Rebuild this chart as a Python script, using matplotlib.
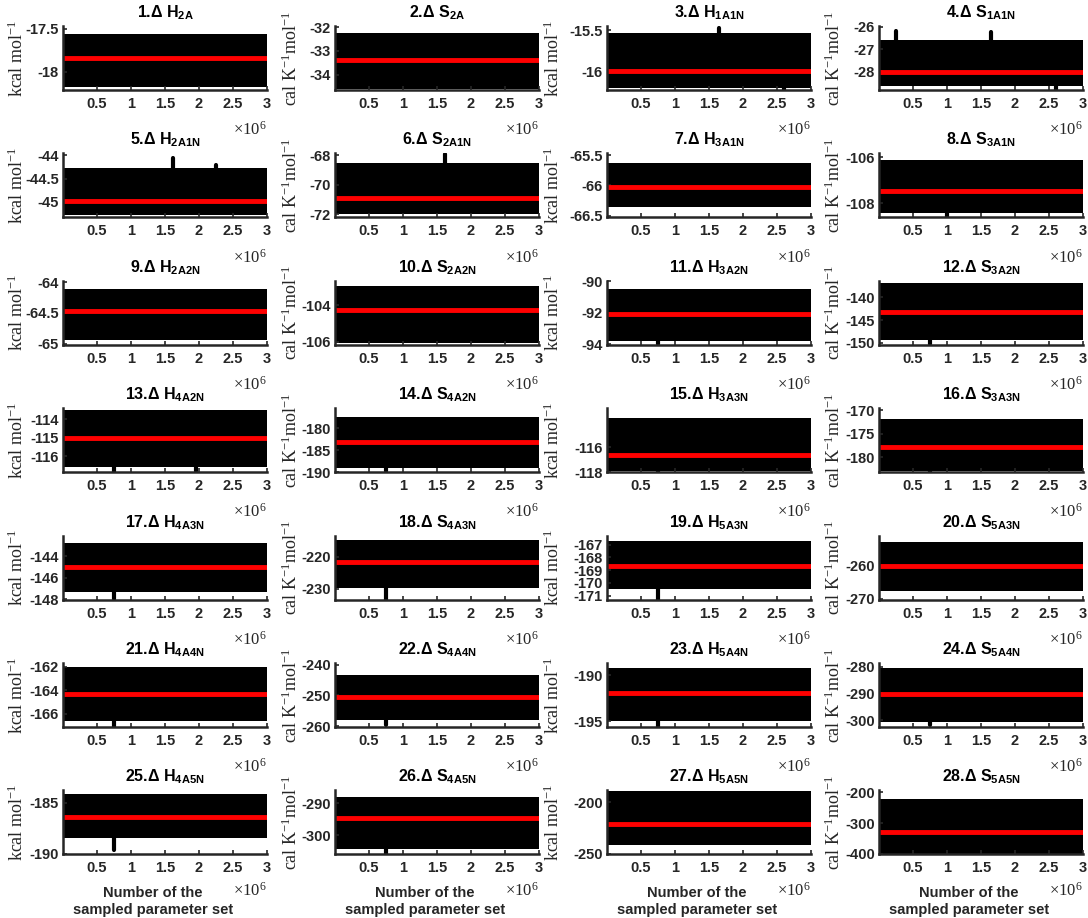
import matplotlib
matplotlib.use("Agg")
import matplotlib.pyplot as plt

plt.rcParams['mathtext.fontset'] = 'custom'
plt.rcParams['mathtext.rm'] = 'Liberation Serif'
plt.rcParams['mathtext.it'] = 'Liberation Serif:italic'
plt.rcParams['mathtext.bf'] = 'Liberation Sans:bold'
plt.rcParams['font.family'] = ['Liberation Sans', 'DejaVu Sans']

# ---------------- data ----------------
symbols = ['H', 'S'] * 14
subscripts = ['2A', '2A', '1A1N', '1A1N', '2A1N', '2A1N', '3A1N', '3A1N',
              '2A2N', '2A2N', '3A2N', '3A2N', '4A2N', '4A2N', '3A3N', '3A3N',
              '4A3N', '4A3N', '5A3N', '5A3N', '4A4N', '4A4N', '5A4N', '5A4N',
              '4A5N', '4A5N', '5A5N', '5A5N']
means = [-17.84, -33.36, -16.0, -28.05, -44.98, -70.9, -66.03, -107.45,
         -64.47, -104.24, -92.05, -143.2, -115.02, -183.1, -116.6, -177.8,
         -145.04, -221.5, -168.7, -260.0, -164.3, -250.5, -191.9, -290.3,
         -186.35, -294.5, -220.5, -330.0]
band_high = [-17.56, -32.26, -15.54, -26.6, -44.28, -68.53, -65.63, -106.13,
             -64.12, -102.9, -90.45, -136.8, -113.5, -177.5, -113.7, -171.8,
             -142.8, -214.7, -166.7, -252.7, -162.0, -243.4, -189.2, -280.6,
             -184.2, -288.2, -189.3, -223.0]
band_low = [-18.18, -34.6, -16.2, -28.67, -45.28, -72.0, -66.36, -108.4,
            -64.94, -106.06, -93.8, -149.3, -116.6, -189.0, -117.9, -182.9,
            -147.35, -229.6, -170.5, -267.8, -166.6, -258.0, -195.0, -300.6,
            -188.4, -304.2, -241.2, -400.0]
ylim_low = [-18.21, -34.64, -16.23, -28.84, -45.33, -72.2, -66.53, -108.6,
            -65.02, -106.18, -94.02, -150.4, -116.86, -189.7, -117.95, -183.2,
            -148.05, -233.3, -171.3, -270.3, -167.1, -260.2, -195.6, -302.6,
            -190.05, -306.0, -250.5, -402.0]
ylim_high = [-17.47, -31.95, -15.45, -25.96, -43.96, -67.87, -65.47, -105.84,
             -63.98, -102.64, -89.96, -136.4, -113.4, -175.4, -112.9, -169.6,
             -142.1, -213.4, -166.3, -250.7, -161.7, -239.5, -188.7, -278.6,
             -183.8, -286.0, -188.3, -193.6]
yticks = [[-18, -17.5], [-34, -33, -32], [-16, -15.5], [-28, -27, -26],
          [-45, -44.5, -44], [-72, -70, -68], [-66.5, -66, -65.5], [-108, -106],
          [-65, -64.5, -64], [-106, -104], [-94, -92, -90], [-150, -145, -140],
          [-116, -115, -114], [-190, -185, -180], [-118, -116], [-180, -175, -170],
          [-148, -146, -144], [-230, -220], [-171, -170, -169, -168, -167], [-270, -260],
          [-166, -164, -162], [-260, -250, -240], [-195, -190], [-300, -290, -280],
          [-190, -185], [-300, -290], [-250, -200], [-400, -300, -200]]
# isolated excursions of the sampled traces (panel number, sample, value)
spike_panel = [3, 3, 4, 4, 4, 5, 5, 6, 8, 11, 12, 13, 13, 14, 15, 16, 17, 18, 19,
               21, 22, 23, 24, 25, 26]
spike_x = [1.65e6, 2.6e6, 0.25e6, 1.65e6, 2.6e6, 1.62e6, 2.25e6, 1.62e6, 1.0e6,
           0.75e6, 0.75e6, 0.75e6, 1.95e6, 0.75e6, 0.75e6, 0.75e6, 0.75e6, 0.75e6,
           0.75e6, 0.75e6, 0.75e6, 0.75e6, 0.75e6, 0.75e6, 0.75e6]
spike_y = [-15.47, -16.23, -26.2, -26.25, -28.84, -44.05, -44.2, -67.9, -108.6,
           -94.0, -150.3, -116.86, -116.8, -189.7, -117.95, -183.2, -148.0, -233.3,
           -171.3, -167.1, -259.5, -195.6, -302.0, -189.6, -306.0]
xticks = [0.5e6, 1e6, 1.5e6, 2e6, 2.5e6, 3e6]
xticklabels = ['0.5', '1', '1.5', '2', '2.5', '3']
n_samples = 3e6

units = {'H': r'$\mathrm{kcal\ mol^{-1}}$', 'S': r'$\mathrm{cal\ K^{-1}mol^{-1}}$'}

# ---------------- figure ----------------
W, H = 1088, 918
fig = plt.figure(figsize=(W / 100, H / 100), dpi=100)
lefts = [63, 335, 607, 879]
axw, axh = 204, 64
label_x = [-0.175, -0.165, -0.218, -0.17]
spine_c = '#262626'

for i in range(28):
    r, c = divmod(i, 4)
    top = 26 + 127.4 * r
    ax = fig.add_axes([lefts[c] / W, (H - top - axh) / H, axw / W, axh / H])
    ax.fill_between([0, n_samples], [band_low[i]] * 2, [band_high[i]] * 2,
                    color='black', lw=0)
    for p, sx, sy in zip(spike_panel, spike_x, spike_y):
        if p == i + 1:
            ax.plot([sx, sx], [means[i], sy], color='black', lw=3,
                    solid_capstyle='round')
    ax.plot([0, n_samples], [means[i]] * 2, color='red', lw=3.5, solid_capstyle='butt')
    ax.set_xlim(0, n_samples)
    ax.set_ylim(ylim_low[i], ylim_high[i])
    ax.set_xticks(xticks)
    ax.set_xticklabels(xticklabels)
    ax.set_yticks(yticks[i])
    ax.set_yticklabels(['%g' % v for v in yticks[i]])
    for s in ['top', 'right']:
        ax.spines[s].set_visible(False)
    for s in ['left', 'bottom']:
        ax.spines[s].set_color(spine_c)
        ax.spines[s].set_linewidth(1.8)
    ax.tick_params(direction='in', length=3, width=1.2, color=spine_c,
                   labelsize=10.5)
    ax.tick_params(axis='y', pad=3)
    ax.tick_params(axis='x', pad=5)
    for lab in ax.get_xticklabels() + ax.get_yticklabels():
        lab.set_fontweight('bold')
        lab.set_color('#262626')
    ax.set_title('%d.\u0394 %s$_{\\mathbf{%s}}$' % (i + 1, symbols[i], subscripts[i]),
                 fontsize=11.5, fontweight='bold', pad=6)
    ax.set_ylabel(units[symbols[i]], fontsize=13, color='#262626')
    ax.yaxis.set_label_coords(label_x[c], 0.5)
    if r == 6:
        ax.text(1.0, -0.55, r'$\times\mathrm{10}^{6}$', transform=ax.transAxes,
                ha='right', va='center', fontsize=12, color='#262626')
        ax.set_xlabel('Number of the\nsampled parameter set', fontsize=10.5,
                      fontweight='bold', color='#262626', labelpad=8,
                      linespacing=1.25)
        ax.xaxis.label.set_x(0.44)
    else:
        ax.text(1.0, -0.61, r'$\times\mathrm{10}^{6}$', transform=ax.transAxes,
                ha='right', va='center', fontsize=12, color='#262626')

fig.savefig('out.png', dpi=100)
